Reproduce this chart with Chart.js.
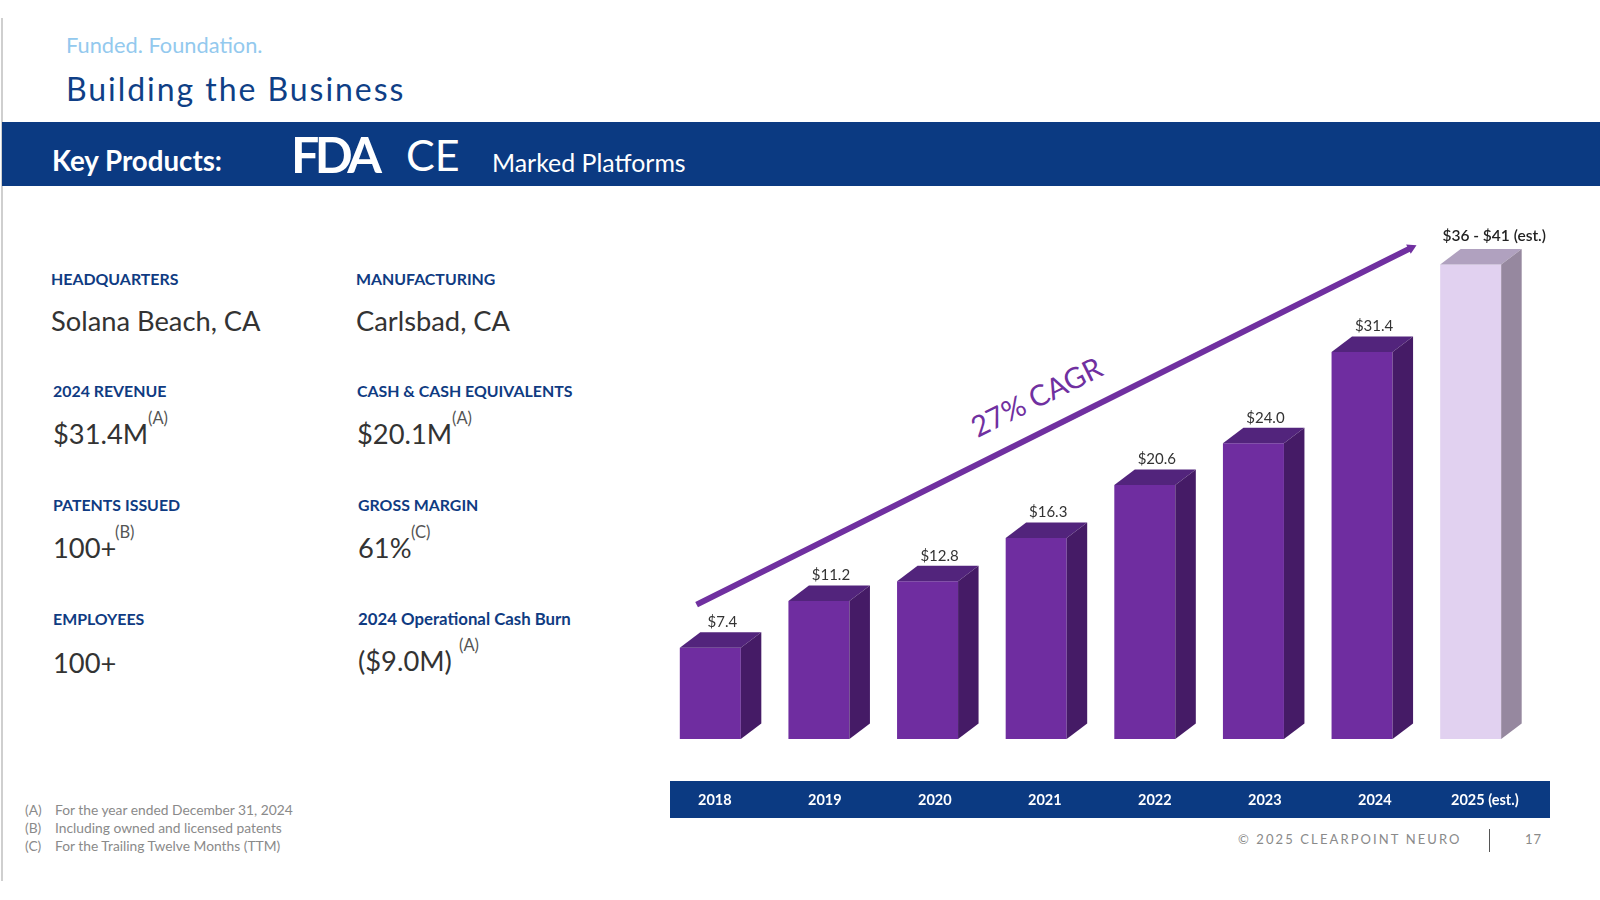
<!DOCTYPE html>
<html>
<head>
<meta charset="utf-8">
<title>Building the Business</title>
<script src="https://cdn.jsdelivr.net/npm/chart.js@4"></script>
<style>
  html, body { margin: 0; padding: 0; background: #fff; }
  body { position: relative; width: 1600px; height: 900px; overflow: hidden; font-family: Lato, "Open Sans", sans-serif; }
  #rule { position: absolute; left: 1px; top: 18px; width: 1.5px; height: 863px; background: #cfcfcf; }
  #banner { position: absolute; left: 2px; top: 122px; width: 1598px; height: 64px; background: #0b3a82; }
  #yearBand { position: absolute; left: 670px; top: 781px; width: 880px; height: 37px; background: #0b3a82; }
  canvas { position: absolute; left: 0; top: 0; }
  .t { position: absolute; white-space: nowrap; line-height: 1; transform: translateY(-50%); }
  .head { color: #0f3b82; font-weight: 700; font-size: 15.9px; }
  .val { color: #333; font-size: 27.3px; }
  .sup { color: #555; font-size: 16.5px; }
  .note { color: #8a8a8a; font-size: 13.8px; }
  .white { color: #fff; }
</style>
</head>
<body>
<div id="rule"></div>
<div id="banner"></div>
<div id="yearBand"></div>

<div class="t" style="left:66px;top:45px;color:#93c9ee;font-size:21.8px">Funded. Foundation.</div>
<div class="t" style="left:66px;top:89px;color:#0f3f86;font-size:32px;letter-spacing:1.95px">Building the Business</div>

<div class="t white" style="left:52px;top:161px;font-size:27.7px;font-weight:700">Key Products:</div>
<div class="t white" style="left:291px;top:154px;font-size:50px;font-weight:700;letter-spacing:-4.5px">FDA</div>
<div class="t white" style="left:406px;top:154px;font-size:43px">CE</div>
<div class="t white" style="left:492px;top:162px;font-size:24.9px">Marked Platforms</div>

<div class="t head" style="left:51px;top:279px">HEADQUARTERS</div>
<div class="t val" style="left:51px;top:321px">Solana Beach, CA</div>
<div class="t head" style="left:356px;top:279px">MANUFACTURING</div>
<div class="t val" style="left:356px;top:321px">Carlsbad, CA</div>

<div class="t head" style="left:53px;top:391px">2024 REVENUE</div>
<div class="t val" style="left:53px;top:434px">$31.4M</div>
<div class="t sup" style="left:148px;top:418px">(A)</div>
<div class="t head" style="left:357px;top:391px">CASH &amp; CASH EQUIVALENTS</div>
<div class="t val" style="left:357px;top:434px">$20.1M</div>
<div class="t sup" style="left:452px;top:418px">(A)</div>

<div class="t head" style="left:53px;top:505px">PATENTS ISSUED</div>
<div class="t val" style="left:53px;top:548px">100+</div>
<div class="t sup" style="left:115px;top:532px">(B)</div>
<div class="t head" style="left:358px;top:505px">GROSS MARGIN</div>
<div class="t val" style="left:358px;top:548px">61%</div>
<div class="t sup" style="left:411px;top:532px">(C)</div>

<div class="t head" style="left:53px;top:619px">EMPLOYEES</div>
<div class="t val" style="left:53px;top:663px">100+</div>
<div class="t head" style="left:358px;top:619px;font-size:16.8px">2024 Operational Cash Burn</div>
<div class="t val" style="left:358px;top:661px">($9.0M)</div>
<div class="t sup" style="left:459px;top:645px">(A)</div>

<div class="t note" style="left:25px;top:810px">(A)</div>
<div class="t note" style="left:55px;top:810px">For the year ended December 31, 2024</div>
<div class="t note" style="left:25px;top:828px">(B)</div>
<div class="t note" style="left:55px;top:828px">Including owned and licensed patents</div>
<div class="t note" style="left:25px;top:846px">(C)</div>
<div class="t note" style="left:55px;top:846px">For the Trailing Twelve Months (TTM)</div>

<div class="t" style="left:1238px;top:839px;color:#8a8a8a;font-size:13px;letter-spacing:2.1px">© 2025 CLEARPOINT NEURO</div>
<div style="position:absolute;left:1489px;top:829px;width:1px;height:23px;background:#555"></div>
<div class="t" style="left:1525px;top:839px;color:#8a8a8a;font-size:13px;letter-spacing:1px">17</div>

<div class="t" style="left:1036px;top:396px;color:#7030a0;font-size:29px;transform:translate(-50%,-50%) rotate(-26.5deg)">27% CAGR</div>

<canvas id="myChart" width="1600" height="900"></canvas>

<script>
const categories = ["2018", "2019", "2020", "2021", "2022", "2023", "2024", "2025 (est.)"];
const revenue = [7.4, 11.2, 12.8, 16.3, 20.6, 24.0, 31.4, 38.5];
const valueLabels = ["$7.4", "$11.2", "$12.8", "$16.3", "$20.6", "$24.0", "$31.4", "$36 - $41 (est.)"];
const trendX = [-0.166, 6.33];
const trendY = [10.9, 39.85];

const DEPTH_X = 20.5;
const DEPTH_Y = 15.5;

const isEstimate = i => i === categories.length - 1;

const bars3d = {
  id: "bars3d",
  afterDatasetDraw(chart, args) {
    if (args.index !== 0) return;
    const { ctx } = chart;
    args.meta.data.forEach((bar, i) => {
      const { x, y, base, width } = bar.getProps(["x", "y", "base", "width"]);
      const l = x - width / 2, r = x + width / 2;
      // top face
      ctx.fillStyle = isEstimate(i) ? "#b0a1bf" : "#52247c";
      ctx.beginPath();
      ctx.moveTo(l, y);
      ctx.lineTo(l + DEPTH_X, y - DEPTH_Y);
      ctx.lineTo(r + DEPTH_X, y - DEPTH_Y);
      ctx.lineTo(r, y);
      ctx.closePath();
      ctx.fill();
      // side face
      ctx.fillStyle = isEstimate(i) ? "#96889f" : "#451b66";
      ctx.beginPath();
      ctx.moveTo(r, y);
      ctx.lineTo(r + DEPTH_X, y - DEPTH_Y);
      ctx.lineTo(r + DEPTH_X, base - DEPTH_Y);
      ctx.lineTo(r, base);
      ctx.closePath();
      ctx.fill();
      // value label
      ctx.fillStyle = isEstimate(i) ? "#222" : "#333";
      ctx.font = (isEstimate(i) ? "600 15.5px " : "15px ") + "Lato";
      ctx.textAlign = "center";
      ctx.textBaseline = "middle";
      ctx.fillText(valueLabels[i], x + (isEstimate(i) ? 23.5 : 12), y - DEPTH_Y - (isEstimate(i) ? 13 : 10));
    });
  }
};

const chart = new Chart(document.getElementById("myChart").getContext("2d"), {
  type: "bar",
  data: {
    labels: categories,
    datasets: [
      {
        type: "bar",
        label: "Revenue",
        data: revenue,
        xAxisID: "x",
        yAxisID: "y",
        grouped: false,
        categoryPercentage: 1,
        barPercentage: 0.5617,
        backgroundColor: ctx => isEstimate(ctx.dataIndex) ? "#e1d1f0" : "#6f2da0",
        order: 2
      },
      {
        type: "line",
        label: "27% CAGR",
        data: trendX.map((x, i) => ({ x: x, y: trendY[i] })),
        xAxisID: "band",
        yAxisID: "y",
        borderColor: "#7030a0",
        backgroundColor: "#7030a0",
        borderWidth: 6,
        pointStyle: "triangle",
        pointRadius: [0, 6],
        pointRotation: 63.6,
        pointBorderWidth: 0,
        clip: false,
        order: 1
      }
    ]
  },
  options: {
    responsive: false,
    animation: false,
    events: [],
    layout: { padding: { left: 656, right: 75, top: 209, bottom: 0 } },
    plugins: { legend: { display: false }, tooltip: { enabled: false } },
    scales: {
      x: { type: "category", display: false, offset: true, grid: { display: false } },
      band: {
        type: "linear",
        position: "bottom",
        offset: false,
        min: -0.535,
        max: 7.365,
        grid: { display: false },
        border: { display: false },
        afterFit: s => { s.height = 161; },
        ticks: {
          stepSize: 1,
          includeBounds: false,
          autoSkip: false,
          maxRotation: 0,
          padding: 45,
          color: "#fff",
          font: { family: "Lato", size: 14.5, weight: "bold" },
          callback: v => categories[v]
        }
      },
      y: { display: false, min: 0, max: 43 }
    }
  },
  plugins: [bars3d]
});
</script>
</body>
</html>
